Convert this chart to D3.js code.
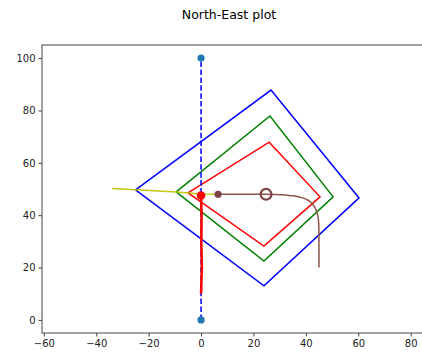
<!DOCTYPE html>
<html>
<head>
<meta charset="utf-8">
<script src="https://cdn.jsdelivr.net/npm/d3@7/dist/d3.min.js"></script>
<style>
  html, body { margin: 0; padding: 0; background: #fff; }
  svg { display: block; font-family: "DejaVu Sans", sans-serif; }
</style>
</head>
<body>
<svg id="chart" width="422" height="356"></svg>
<script>
// Outline polygons as [east, north] vertices (closed)
const outerBox  = [[-25, 49.7], [26.7, 87.8], [60.3, 46.6], [24, 13], [-25, 49.7]];
const middleBox = [[-9.5, 48.9], [26.3, 77.9], [50.4, 47], [24, 22.5], [-9.5, 48.9]];
const innerBox  = [[-5, 48.5], [26, 67.9], [45.4, 47], [24, 28.2], [-5, 48.5]];

// Reference axis (north direction) with its end points
const northAxis = [[0, 0], [0, 100]];

// Approach track (yellow)
const approachTrack = [[-34, 50.2], [-25, 49.7], [-9.5, 48.9], [0, 48.1], [6.5, 48]];

// Descent track (red)
const descentTrack = [[0, 47.5], [0.2, 40], [0.1, 30], [0.3, 20], [0, 10]];

// Turning track (brown)
const turnTrack = [[6.5, 48], [15, 48], [24.8, 48], [30, 47.8], [35, 47.4], [38, 46.8],
                   [40.3, 46], [42, 44.8], [43.4, 43], [44.4, 40.5], [44.9, 37], [45, 32], [45, 25], [45, 20]];

const redPoint   = [0, 47.5];
const brownPoint = [6.5, 48];
const ringPoint  = [24.8, 48];

const xTicks = [-60, -40, -20, 0, 20, 40, 60, 80];
const yTicks = [0, 20, 40, 60, 80, 100];

const svg = d3.select("#chart");

const x = d3.scaleLinear().domain([-60.7, 86]).range([42, 426.4]);
const y = d3.scaleLinear().domain([-5, 105]).range([333, 45]);

const line = d3.line().x(d => x(d[0])).y(d => y(d[1]));

// Title
svg.append("text")
  .attr("x", 229).attr("y", 19)
  .attr("text-anchor", "middle")
  .attr("font-size", 12.5)
  .attr("fill", "#000")
  .text("North-East plot");

const plot = svg.append("g");

// Outline polygons
[[outerBox, "#0000ff"], [middleBox, "#008000"], [innerBox, "#ff0000"]].forEach(([pts, c]) => {
  plot.append("path").attr("d", line(pts))
    .attr("fill", "none").attr("stroke", c).attr("stroke-width", 1.5)
    .attr("stroke-linejoin", "miter");
});

// Approach track
plot.append("path").attr("d", line(approachTrack))
  .attr("fill", "none").attr("stroke", "#bfbf00").attr("stroke-width", 1.5).attr("opacity", 0.9);

// North axis dashed
plot.append("path").attr("d", line(northAxis))
  .attr("fill", "none").attr("stroke", "#0000ff").attr("stroke-width", 1.5)
  .attr("stroke-dasharray", "5.5,2.4");

// Descent track
plot.append("path").attr("d", line(descentTrack))
  .attr("fill", "none").attr("stroke", "#ff0000").attr("stroke-width", 2.6)
  .attr("stroke-linejoin", "round");

// Turning track
plot.append("path").attr("d", d3.line().curve(d3.curveMonotoneY).x(d => x(d[0])).y(d => y(d[1]))(turnTrack))
  .attr("fill", "none").attr("stroke", "#8c564b").attr("stroke-width", 1.5);

// Markers
northAxis.forEach(p => {
  plot.append("circle").attr("cx", x(p[0])).attr("cy", y(p[1])).attr("r", 3.6).attr("fill", "#1f77b4");
});
plot.append("circle").attr("cx", x(redPoint[0])).attr("cy", y(redPoint[1])).attr("r", 4.3).attr("fill", "#ff0000");
plot.append("circle").attr("cx", x(brownPoint[0])).attr("cy", y(brownPoint[1])).attr("r", 3.6).attr("fill", "#7f4545");
plot.append("circle").attr("cx", x(ringPoint[0])).attr("cy", y(ringPoint[1])).attr("r", 5.4)
  .attr("fill", "none").attr("stroke", "#7f4545").attr("stroke-width", 2.2);

// Frame
svg.append("rect")
  .attr("x", 42).attr("y", 45).attr("width", 426.4 - 42).attr("height", 333 - 45)
  .attr("fill", "none").attr("stroke", "#444").attr("stroke-width", 1);

// Axes
const xAxis = d3.axisBottom(x).tickValues(xTicks).tickSize(3.5).tickPadding(3).tickFormat(d => d < 0 ? "\u2212" + Math.abs(d) : d);
const yAxis = d3.axisLeft(y).tickValues(yTicks).tickSize(3.5).tickPadding(3);

const gx = svg.append("g").attr("transform", "translate(0,333)").call(xAxis);
const gy = svg.append("g").attr("transform", "translate(42,0)").call(yAxis);
[gx, gy].forEach(g => {
  g.select(".domain").remove();
  g.selectAll("line").attr("stroke", "#444");
  g.selectAll("text").attr("font-size", 10).attr("fill", "#222").attr("font-family", "DejaVu Sans, sans-serif");
});
</script>
</body>
</html>
